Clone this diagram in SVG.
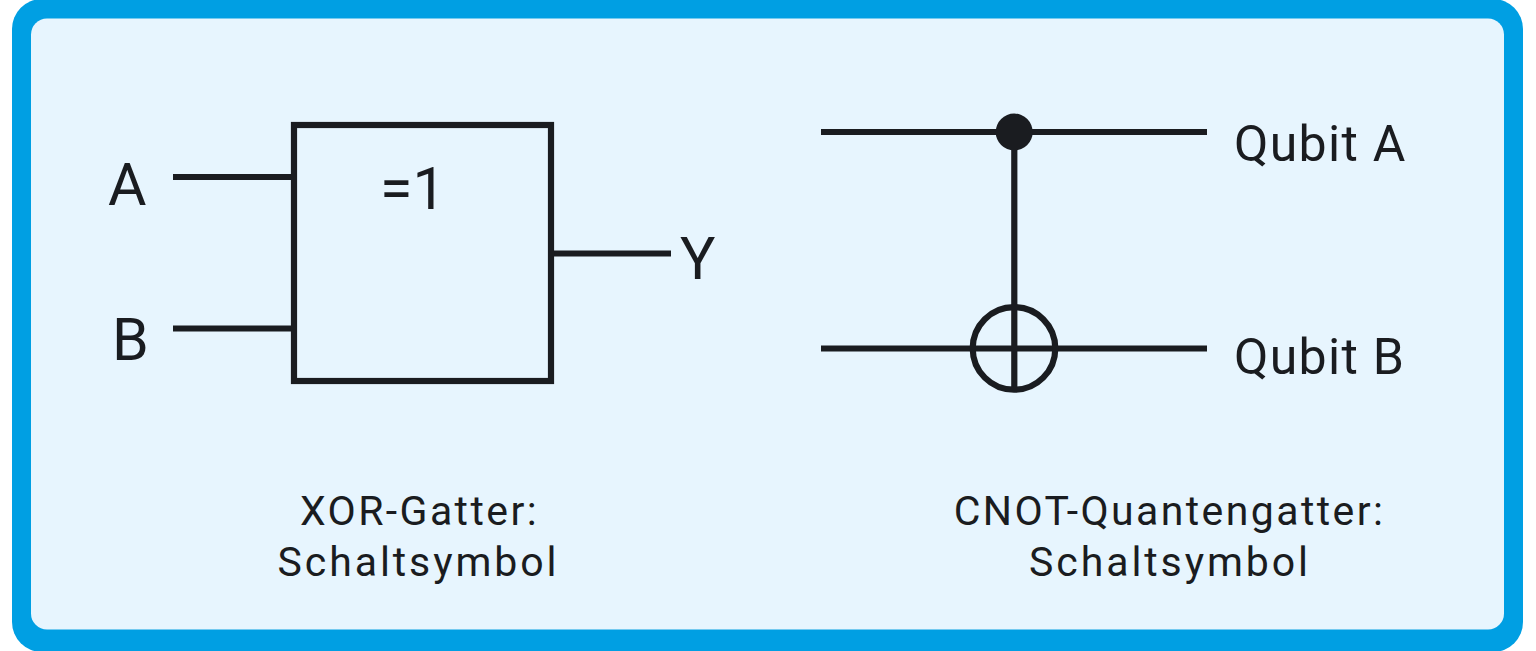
<svg xmlns="http://www.w3.org/2000/svg" width="1536" height="651" viewBox="0 0 1536 651">
<style>
.w{fill:none;stroke:#1a1c20;stroke-width:6.200}
.t{font-family:Roboto,"Liberation Sans",sans-serif;fill:#1a1c20}
.b{font-size:59px}
.q{font-size:50px;letter-spacing:1.300px}
.c{font-size:41px;letter-spacing:2.400px;text-anchor:middle}
.s{letter-spacing:2.900px}
</style>
<rect width="1536" height="651" fill="#fff"/>
<g id="frame"><rect x="12" y="-1" width="1511" height="653" rx="30" fill="#009fe3"/><rect x="31" y="18.500" width="1473" height="611" rx="16" fill="#e7f5fe"/></g>
<g id="connectors">
<path class="w" d="M173 177H293M173 328.500H293M551 253.500H671"/>
<path class="w" d="M821 132H1207M821 348.500H1207M1014.300 132V390"/>
</g>
<g id="xor-gate"><rect class="w" x="294" y="125" width="257" height="256"/><text class="t" x="380" y="209" font-size="59">=1</text></g>
<g id="label-a"><text class="t b" x="108" y="205">A</text></g>
<g id="label-b"><text class="t b" x="112" y="360">B</text></g>
<g id="label-y"><text class="t b" x="680" y="279">Y</text></g>
<g id="control"><circle cx="1014.200" cy="132" r="18.500" fill="#1a1c20"/></g>
<g id="target"><circle class="w" cx="1014" cy="348.400" r="41.300"/></g>
<g id="label-qa"><text class="t q" x="1234" y="161">Qubit A</text></g>
<g id="label-qb"><text class="t q" x="1234" y="374">Qubit B</text></g>
<g id="caption-xor"><text class="t c" x="419.500" y="525">XOR-Gatter:</text><text class="t c s" x="418.500" y="576">Schaltsymbol</text></g>
<g id="caption-cnot"><text class="t c" x="1169.500" y="525">CNOT-Quantengatter:</text><text class="t c s" x="1170" y="576">Schaltsymbol</text></g>
</svg>
